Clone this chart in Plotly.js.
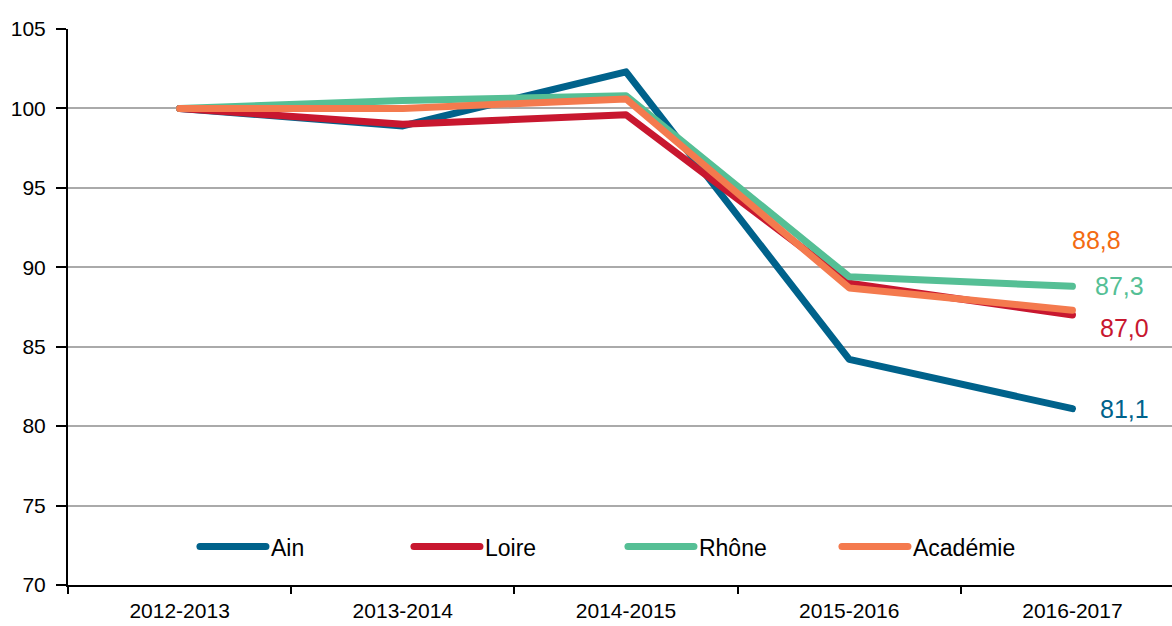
<!DOCTYPE html>
<html>
<head>
<meta charset="utf-8">
<script src="https://cdn.plot.ly/plotly-3.0.1.min.js"></script>
<style>
  html, body { margin: 0; padding: 0; background: #fff; }
  #chart { width: 1172px; height: 626px; }
  #chart .scatterlayer path.js-line, #chart .legendlines path { stroke-linecap: round; stroke-linejoin: round; }
</style>
</head>
<body>
<div id="chart"></div>
<script>
// années scolaires
const years = ['2012-2013', '2013-2014', '2014-2015', '2015-2016', '2016-2017'];

// indices base 100 en 2012-2013
const ain = [100, 98.9, 102.3, 84.2, 81.1];
const loire = [100, 99.0, 99.6, 89.0, 87.0];
const rhone = [100, 100.5, 100.8, 89.4, 88.8];
const academie = [100, 100.0, 100.6, 88.7, 87.3];

const seriesNames = ['Ain', 'Loire', 'Rhône', 'Académie'];
const seriesColors = ['#00628b', '#c8172f', '#55bf95', '#f47a4e'];

// étiquettes de fin de courbe (telles qu'affichées)
const endLabels = ['88,8', '87,3', '87,0', '81,1'];
const endLabelY = [91.7, 88.85, 86.2, 81.1];
const endLabelColors = ['#f36b12', '#55bf95', '#c8172f', '#00628b'];

const FONT = '"Liberation Sans", Arial, sans-serif';

const allSeries = [ain, loire, rhone, academie];

const traces = allSeries.map((vals, i) => ({
    x: years,
    y: vals,
    name: seriesNames[i],
    type: 'scatter',
    mode: 'lines',
    line: {color: seriesColors[i], width: 7},
    hoverinfo: 'x+y+name'
}));

const shifts = [24, 47, 52, 52];
const annotations = endLabels.map((txt, i) => ({
    x: years[years.length - 1],
    y: endLabelY[i],
    xref: 'x',
    yref: 'y',
    text: txt,
    showarrow: false,
    xshift: shifts[i],
    font: {family: FONT, size: 25, color: endLabelColors[i]}
}));

const layout = {
    width: 1172,
    height: 626,
    margin: {l: 68, r: 0, t: 29, b: 41},
    paper_bgcolor: '#ffffff',
    plot_bgcolor: '#ffffff',
    font: {family: FONT, size: 21, color: '#000'},
    showlegend: true,
    legend: {
        orientation: 'h',
        x: 0.115,
        xanchor: 'left',
        y: 0.069,
        yanchor: 'middle',
        bgcolor: 'rgba(0,0,0,0)',
        font: {family: FONT, size: 23, color: '#000'},
        itemwidth: 66,
        entrywidth: 133
    },
    xaxis: {
        type: 'category',
        range: [-0.5, 4.446],
        showgrid: false,
        zeroline: false,
        showline: true,
        linecolor: '#000',
        linewidth: 2,
        ticks: 'outside',
        tickson: 'boundaries',
        ticklen: 7,
        tickwidth: 2,
        tickcolor: '#000',
        ticklabelstandoff: 6,
        tickfont: {family: FONT, size: 21, color: '#000'},
        fixedrange: true
    },
    yaxis: {
        range: [70, 105],
        tickvals: [70, 75, 80, 85, 90, 95, 100, 105],
        showgrid: true,
        gridcolor: '#aaaaaa',
        gridwidth: 2,
        zeroline: false,
        showline: true,
        linecolor: '#000',
        linewidth: 2,
        ticks: 'outside',
        ticklen: 10,
        tickwidth: 2,
        tickcolor: '#000',
        ticklabelstandoff: 6,
        tickfont: {family: FONT, size: 21, color: '#000'},
        fixedrange: true
    },
    annotations: annotations
};

Plotly.newPlot('chart', traces, layout, {displayModeBar: false, responsive: false});
</script>
</body>
</html>
